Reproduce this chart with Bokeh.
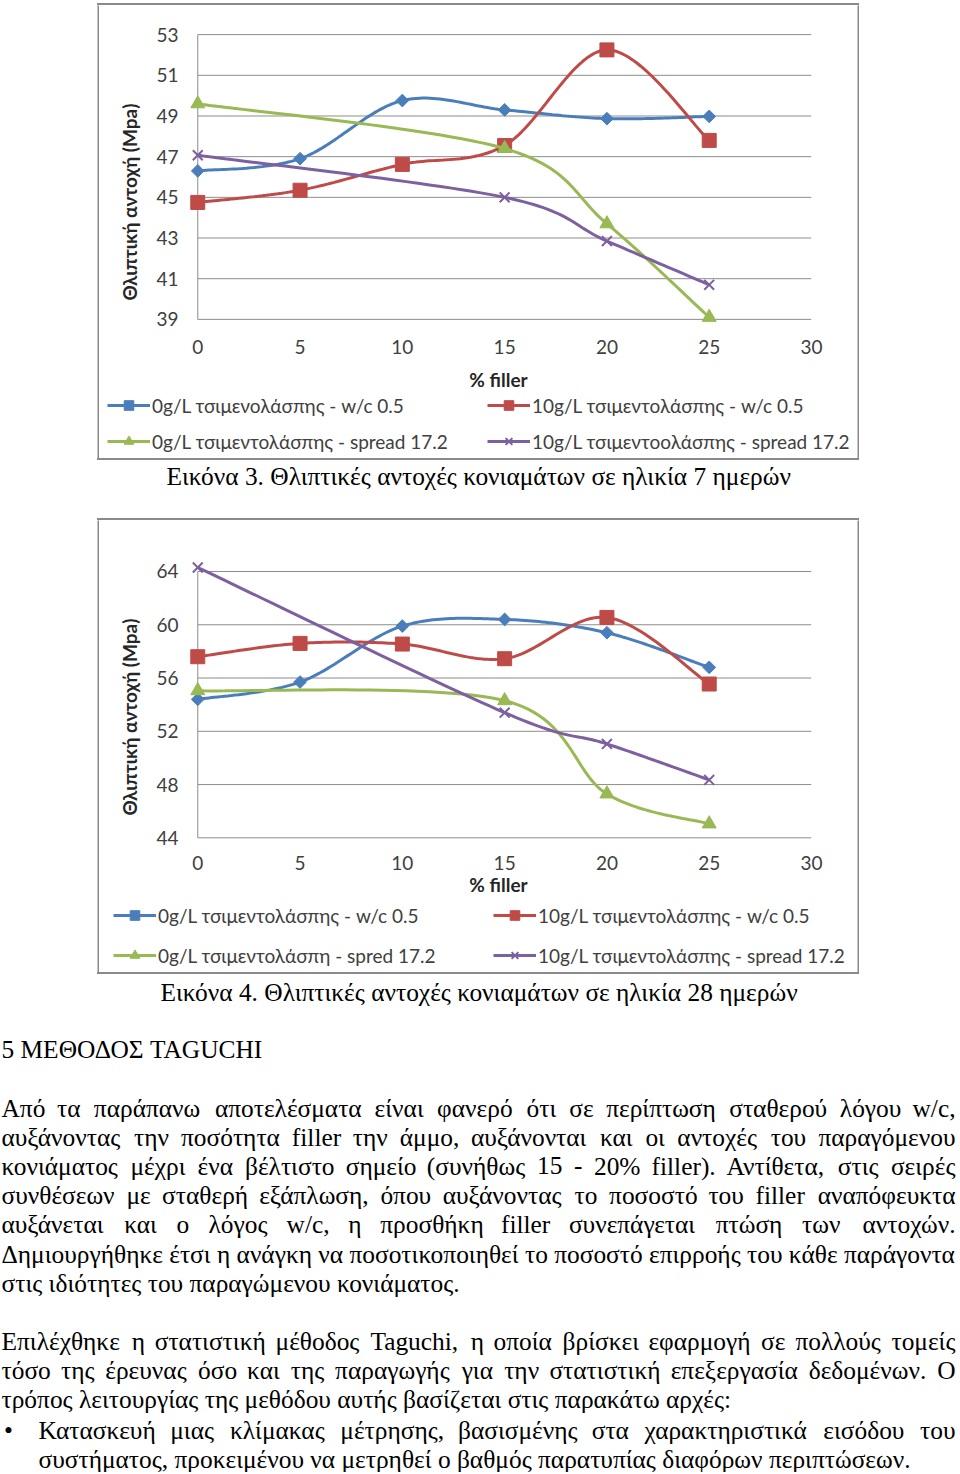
import unicodedata
import numpy as np
from bokeh.plotting import figure
from bokeh.models import Range1d, FixedTicker, Legend, LegendItem, Title, Spacer, Div
from bokeh.layouts import column, row
from bokeh.embed import file_html
from bokeh.resources import INLINE
from bokeh.core.properties import value

# ---------------- data ----------------
filler_all = [0, 5, 10, 15, 20, 25]
filler_spread = [0, 15, 20, 25]

d7_0g_wc = [46.3, 46.9, 49.76, 49.3, 48.87, 48.98]
d7_10g_wc = [44.75, 45.35, 46.62, 47.55, 52.25, 47.8]
d7_0g_spread = [49.6, 47.4, 43.7, 39.1]
d7_10g_spread = [47.07, 45.0, 42.85, 40.7]

d28_0g_wc = [54.4, 55.7, 59.9, 60.4, 59.4, 56.8]
d28_10g_wc = [57.6, 58.6, 58.55, 57.45, 60.55, 55.55]
d28_0g_spread = [55.05, 54.3, 47.3, 45.05]
d28_10g_spread = [64.3, 53.4, 51.05, 48.35]

x_ticks = [0, 5, 10, 15, 20, 25, 30]
y_ticks_7 = [39, 41, 43, 45, 47, 49, 51, 53]
y_ticks_28 = [44, 48, 52, 56, 60, 64]

legend_7 = ["0g/L τσιμενολάσπης - w/c 0.5", "10g/L τσιμεντολάσπης - w/c 0.5",
            "0g/L τσιμεντολάσπης - spread 17.2", "10g/L τσιμεντοολάσπης - spread 17.2"]
legend_28 = ["0g/L τσιμεντολάσπης - w/c 0.5", "10g/L τσιμεντολάσπης - w/c 0.5",
             "0g/L τσιμεντολάσπη - spred 17.2", "10g/L τσιμεντολάσπης - spread 17.2"]
y_title = "Θλιπτική αντοχή (Mpa)"
x_title = "% filler"

caption_7 = "Εικόνα 3. Θλιπτικές αντοχές κονιαμάτων σε ηλικία 7 ημερών"
caption_28 = "Εικόνα 4. Θλιπτικές αντοχές κονιαμάτων σε ηλικία 28 ημερών"
heading = "5 ΜΕΘΟΔΟΣ TAGUCHI"
para1 = [
    "Από τα παράπανω αποτελέσματα είναι φανερό ότι σε περίπτωση σταθερού λόγου w/c,",
    "αυξάνοντας την ποσότητα filler την άμμο, αυξάνονται και οι αντοχές του παραγόμενου",
    "κονιάματος μέχρι ένα βέλτιστο σημείο (συνήθως 15 - 20% filler). Αντίθετα, στις σειρές",
    "συνθέσεων με σταθερή εξάπλωση, όπου αυξάνοντας το ποσοστό του filler αναπόφευκτα",
    "αυξάνεται και ο λόγος w/c, η προσθήκη filler συνεπάγεται πτώση των αντοχών.",
    "Δημιουργήθηκε έτσι η ανάγκη να ποσοτικοποιηθεί το ποσοστό επιρροής του κάθε παράγοντα",
    "στις ιδιότητες του παραγώμενου κονιάματος.",
]
para2 = [
    "Επιλέχθηκε η στατιστική μέθοδος Taguchi, η οποία βρίσκει εφαρμογή σε πολλούς τομείς",
    "τόσο της έρευνας όσο και της παραγωγής  για την στατιστική επεξεργασία δεδομένων. Ο",
    "τρόπος λειτουργίας της μεθόδου αυτής βασίζεται στις παρακάτω αρχές:",
]
bullet = [
    "Κατασκευή μιας κλίμακας μέτρησης, βασισμένης στα χαρακτηριστικά εισόδου του",
    "συστήματος, προκειμένου να μετρηθεί ο βαθμός παρατυπίας διαφόρων περιπτώσεων.",
]

# ---------------- style ----------------
CH_FONT = "Lato"
TX_FONT = "Liberation Serif"
TX_SIZE = 25.4
COLORS = ["#4A7EBB", "#BE4B48", "#98B954", "#7D60A0"]
GRID = "#8c8c8c"
BOX = "#8a8a8a"


def smooth(xs, ys, n=30):
    pts = list(zip(xs, ys))
    ox, oy = [xs[0]], [ys[0]]
    for i in range(len(pts) - 1):
        p0 = pts[i - 1] if i > 0 else pts[i]
        p1, p2 = pts[i], pts[i + 1]
        p3 = pts[i + 2] if i + 2 < len(pts) else pts[i + 1]
        c1 = (p1[0] + (p2[0] - p0[0]) / 6, p1[1] + (p2[1] - p0[1]) / 6)
        c2 = (p2[0] - (p3[0] - p1[0]) / 6, p2[1] - (p3[1] - p1[1]) / 6)
        for k in range(1, n + 1):
            t = k / n
            a, b, c, d = (1 - t) ** 3, 3 * (1 - t) ** 2 * t, 3 * (1 - t) * t ** 2, t ** 3
            ox.append(a * p1[0] + b * c1[0] + c * c2[0] + d * p2[0])
            oy.append(a * p1[1] + b * c1[1] + c * c2[1] + d * p2[1])
    return ox, oy


def draw_series(p, xs, ys, marker, size, angle, lw, color):
    if marker == "x":
        return p.scatter(xs, ys, marker="x", size=size, line_color=color, line_width=lw)
    return p.scatter(xs, ys, marker=marker, size=size, angle=angle,
                     fill_color=color, line_color=color, line_width=1)


def make_chart(series, y_ticks, pad_lo, pad_hi, W, H, top, bottom,
               tick_standoff, xtitle_standoff, ytitle_offset):
    left, right = 86, 46
    xr = Range1d(-0.6, 30)
    yr = Range1d(y_ticks[0] - pad_lo, y_ticks[-1] + pad_hi)
    p = figure(width=W, height=H, x_range=xr, y_range=yr,
               min_border_left=left, min_border_right=right,
               min_border_top=top, min_border_bottom=bottom,
               toolbar_location=None, output_backend="svg")
    p.outline_line_color = None
    p.grid.visible = False

    n = len(y_ticks)
    p.segment(x0=[x_ticks[0]] * n, x1=[x_ticks[-1]] * n, y0=y_ticks, y1=y_ticks,
              line_color=GRID, line_width=1)
    p.segment(x0=[x_ticks[0]], x1=[x_ticks[0]], y0=[y_ticks[0]], y1=[y_ticks[-1]],
              line_color=GRID, line_width=1)

    for ax in (p.xaxis, p.yaxis):
        ax.axis_line_color = None
        ax.major_tick_line_color = None
        ax.minor_tick_line_color = None
        ax.major_tick_out = 0
        ax.major_tick_in = 0
        ax.major_label_text_font = CH_FONT
        ax.major_label_text_font_size = "19px"
        ax.major_label_text_color = "#404040"
    p.xaxis.ticker = FixedTicker(ticks=x_ticks)
    p.yaxis.ticker = FixedTicker(ticks=y_ticks)
    p.xaxis.major_label_standoff = tick_standoff
    p.yaxis.major_label_standoff = 7
    p.xaxis.axis_label = x_title
    p.xaxis.axis_label_text_font = CH_FONT
    p.xaxis.axis_label_text_font_style = "bold"
    p.xaxis.axis_label_text_font_size = "19px"
    p.xaxis.axis_label_text_color = "#262626"
    p.xaxis.axis_label_standoff = xtitle_standoff

    p.add_layout(Title(text=y_title, align="left", offset=ytitle_offset, standoff=25,
                       text_font=CH_FONT, text_font_style="bold",
                       text_font_size="19px", text_color="#262626"), "left")

    for (xs, ys, marker, size, angle, lw), color in zip(series, COLORS):
        sx, sy = smooth(xs, ys)
        p.line(sx, sy, line_color=color, line_width=3)
        draw_series(p, xs, ys, marker, size, angle, lw, color)
    return p


def make_legend_fig(series, labels, W, H, col_x, vy, spacing):
    p = figure(width=W, height=H, x_range=Range1d(0, 1), y_range=Range1d(0, 1),
               x_axis_type=None, y_axis_type=None, min_border=0, frame_align=False,
               toolbar_location=None, output_backend="svg")
    p.outline_line_color = None
    p.grid.visible = False
    items = []
    for (xs, ys, marker, size, angle, mlw), color, lab in zip(series, COLORS, labels):
        # one off-range point so that the legend swatch gets drawn
        rl = p.line([-10, -9], [-10, -10], line_color=color, line_width=3)
        rm = draw_series(p, [-10], [-10], marker, size, angle, mlw, color)
        items.append(LegendItem(label=lab, renderers=[rl, rm]))
    for c, vx in enumerate(col_x):
        leg = Legend(items=items[c::2], location=(vx, vy),
                     glyph_width=43, glyph_height=24, label_height=24,
                     label_standoff=2, spacing=spacing, padding=0, margin=0,
                     border_line_color=None, background_fill_alpha=0,
                     label_text_font=CH_FONT, label_text_font_size="19px",
                     label_text_color="#404040")
        p.add_layout(leg)
    return p


def hbar(w):
    return Div(text="", width=w, height=2, margin=0,
               styles={"background-color": BOX, "padding": "0", "overflow": "hidden"})


def vbar(h):
    b = figure(width=2, height=h, x_range=Range1d(0, 1), y_range=Range1d(0, 1),
               x_axis_type=None, y_axis_type=None, min_border=0, frame_align=False,
               toolbar_location=None, output_backend="svg",
               background_fill_color=BOX, border_fill_color=BOX)
    b.outline_line_color = None
    b.grid.visible = False
    return b


def boxed(chart, legfig, w, h):
    return column(hbar(w), row(vbar(h - 4), column(chart, legfig), vbar(h - 4)), hbar(w))


series7 = [
    (filler_all, d7_0g_wc, "square", 9, np.pi / 4, 1),
    (filler_all, d7_10g_wc, "square", 14, 0, 1),
    (filler_spread, d7_0g_spread, "triangle", 14, 0, 1),
    (filler_spread, d7_10g_spread, "x", 14, 0, 2),
]
series28 = [
    (filler_all, d28_0g_wc, "square", 9, np.pi / 4, 1),
    (filler_all, d28_10g_wc, "square", 14, 0, 1),
    (filler_spread, d28_0g_spread, "triangle", 14, 0, 1),
    (filler_spread, d28_10g_spread, "x", 14, 0, 2),
]

fig7 = make_chart(series7, y_ticks_7, 0.4, 0.4, 758, 388, 21, 66, 12, 11, 27)
leg7 = make_legend_fig(series7, legend_7, 758, 65, [8, 388], 5, 12)
fig28 = make_chart(series28, y_ticks_28, 0.5, 0.9, 758, 378, 39, 54, 11, 0, 29)
leg28 = make_legend_fig(series28, legend_28, 758, 74, [14, 394], 5, 16)

# ---------------- text ----------------
GREEK_W = {"α": .54, "β": .5, "γ": .45, "δ": .5, "ε": .43, "ζ": .43, "η": .5, "θ": .5,
           "ι": .28, "κ": .5, "λ": .48, "μ": .53, "ν": .46, "ξ": .43, "ο": .5, "π": .53,
           "ρ": .5, "σ": .53, "ς": .42, "τ": .42, "υ": .5, "φ": .64, "χ": .47, "ψ": .67,
           "ω": .7}
LATIN_W = {"a": .444, "b": .5, "c": .444, "d": .5, "e": .444, "f": .333, "g": .5, "h": .5,
           "i": .278, "j": .278, "k": .5, "l": .278, "m": .778, "n": .5, "o": .5, "p": .5,
           "q": .5, "r": .333, "s": .389, "t": .278, "u": .5, "v": .5, "w": .722, "x": .5,
           "y": .5, "z": .444, ",": .25, ".": .25, "-": .333, "/": .278, "(": .333,
           ")": .333, "%": .833, ":": .278}


def char_w(ch):
    base = unicodedata.normalize("NFD", ch)[0]
    if base in GREEK_W:
        return GREEK_W[base]
    if base in LATIN_W:
        return LATIN_W[base]
    if base.isdigit():
        return .5
    if base.isupper():
        return .68
    return .5


def text_fig(w, h):
    p = figure(width=w, height=h, x_range=Range1d(0, w), y_range=Range1d(h, 0),
               x_axis_type=None, y_axis_type=None, min_border=0, frame_align=False,
               toolbar_location=None, output_backend="svg")
    p.grid.visible = False
    p.outline_line_color = None
    return p


def put(p, xs, ys, texts, align="left"):
    p.text(x=xs, y=ys, text=texts, text_font=value(TX_FONT),
           text_font_size=f"{TX_SIZE}px", text_color="#000000",
           text_baseline="middle", text_align=align)


def put_justified(p, line, y, x0, x1, natural):
    words = line.split()
    est = [sum(char_w(c) for c in w) for w in words]
    space = 0.25 * TX_SIZE
    k = (natural - space * (len(words) - 1)) / sum(est)
    widths = [e * k for e in est]
    gap = (x1 - x0 - sum(widths)) / (len(words) - 1)
    xs, pos = [], x0
    for w in widths[:-1]:
        xs.append(pos)
        pos += w + gap
    put(p, xs, [y] * len(xs), words[:-1])
    put(p, [x1], [y], [words[-1]], align="right")


RIGHT = 955
mid = text_fig(956, 58)
put(mid, [166], [15], [caption_7])

bot = text_fig(956, 498)
put(bot, [160], [17], [caption_28])
put(bot, [1], [74], [heading])
p1_y = [133, 162, 191, 220, 249, 279, 308]
p1_nat = [882, 887, 889, 901, 809, None, None]
for line, y, nat in zip(para1, p1_y, p1_nat):
    if nat is None:
        put(bot, [1], [y], [line])
    else:
        put_justified(bot, line, y, 1, RIGHT, nat)
p2_y = [366, 395, 424]
p2_nat = [910, 901, None]
for line, y, nat in zip(para2, p2_y, p2_nat):
    if nat is None:
        put(bot, [1], [y], [line])
    else:
        put_justified(bot, line, y, 1, RIGHT, nat)
put(bot, [8], [455], ["•"], align="center")
put_justified(bot, bullet[0], 455, 38, RIGHT, 845)
put(bot, [38], [484], [bullet[1]])

layout = column(
    Spacer(width=956, height=3),
    row(Spacer(width=97, height=457), boxed(fig7, leg7, 762, 457)),
    mid,
    row(Spacer(width=97, height=456), boxed(fig28, leg28, 762, 456)),
    bot,
)

open("out.html", "w").write(file_html(layout, INLINE))
